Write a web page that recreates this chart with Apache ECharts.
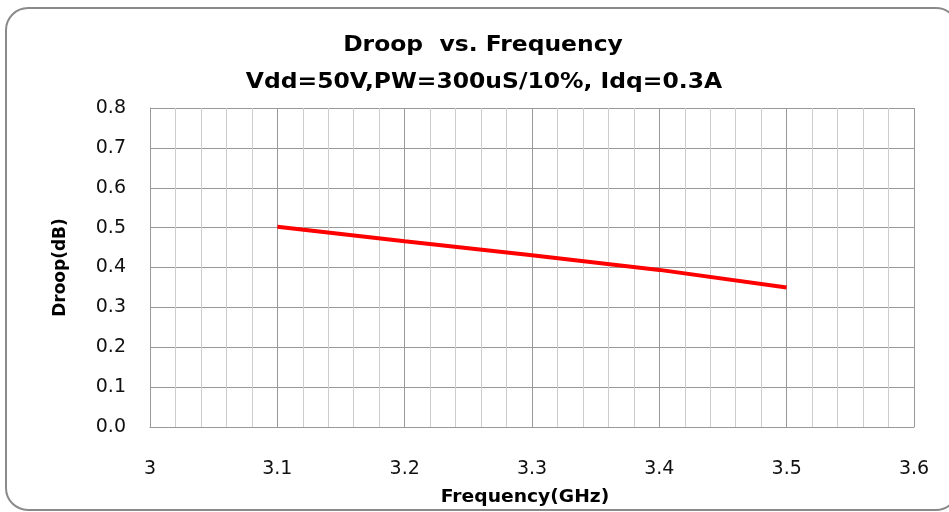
<!DOCTYPE html>
<html lang="en">
<head>
    <meta charset="UTF-8">
    <title>Droop vs. Frequency</title>
    <style>
        html, body { margin: 0; padding: 0; background: #fff; }
        #chart { width: 949px; height: 512px; }
    </style>
</head>
<body>
<div id="chart"></div>
<script src="https://cdn.jsdelivr.net/npm/echarts@6/dist/echarts.min.js"></script>
<script type="text/javascript">
    const chart = echarts.init(document.getElementById('chart'));

    // Frequency (GHz) and droop (dB)
    const freq = [3.1, 3.2, 3.3, 3.4, 3.5];
    const droop = [0.502, 0.466, 0.431, 0.394, 0.350];

    const titleText = 'Droop  vs. Frequency';
    const subText = 'Vdd=50V,PW=300uS/10%, Idq=0.3A';
    const xName = 'Frequency(GHz)';
    const yName = 'Droop(dB)';

    // the source picture is a bit stretched sideways, so the text is widened a little
    function label(text, x, y, size, sx) {
        return {
            type: 'text',
            x: x, y: y,
            scaleX: sx,
            style: {
                text: text, fill: '#000', align: 'center', verticalAlign: 'middle',
                font: 'bold ' + size + 'px "DejaVu Sans"'
            }
        };
    }

    chart.setOption({
        animation: false,
        textStyle: { fontFamily: 'DejaVu Sans' },
        graphic: [
            {
                type: 'rect',
                shape: { x: 6, y: 8, width: 952, height: 502, r: 22 },
                style: { fill: 'none', stroke: '#8a8a8a', lineWidth: 2 },
                z: -1
            },
            label(titleText, 483, 45, 22, 1.065),
            label(subText, 484, 82, 22, 1.065),
            label(xName, 525, 498, 17, 1.1)
        ],
        grid: { left: 150, right: 35, top: 108, bottom: 85 },
        xAxis: {
            type: 'value',
            min: 3, max: 3.6, interval: 0.1,
            axisLine: { show: true, lineStyle: { color: '#999', width: 1 } },
            axisTick: { show: false },
            axisLabel: {
                margin: 33, fontSize: 19, color: '#111',
                formatter: v => Number(v.toFixed(1)).toString()
            },
            splitLine: { show: true, lineStyle: { color: '#999', width: 1 } },
            minorTick: { show: false, splitNumber: 5 },
            minorSplitLine: { show: true, lineStyle: { color: '#cdcdcd', width: 1 } }
        },
        yAxis: {
            type: 'value',
            min: 0, max: 0.8, interval: 0.1,
            name: yName,
            nameLocation: 'middle',
            nameGap: 81,
            nameTextStyle: { fontSize: 17, fontWeight: 'bold', color: '#000' },
            axisLine: { show: true, lineStyle: { color: '#999', width: 1 } },
            axisTick: { show: false },
            axisLabel: {
                margin: 24, fontSize: 19, color: '#111',
                formatter: v => v.toFixed(1)
            },
            splitLine: { show: true, lineStyle: { color: '#999', width: 1 } }
        },
        series: [
            {
                type: 'line',
                data: freq.map((f, i) => [f, droop[i]]),
                showSymbol: false,
                lineStyle: { color: '#ff0000', width: 4 },
                itemStyle: { color: '#ff0000' }
            }
        ]
    });
</script>
</body>
</html>
